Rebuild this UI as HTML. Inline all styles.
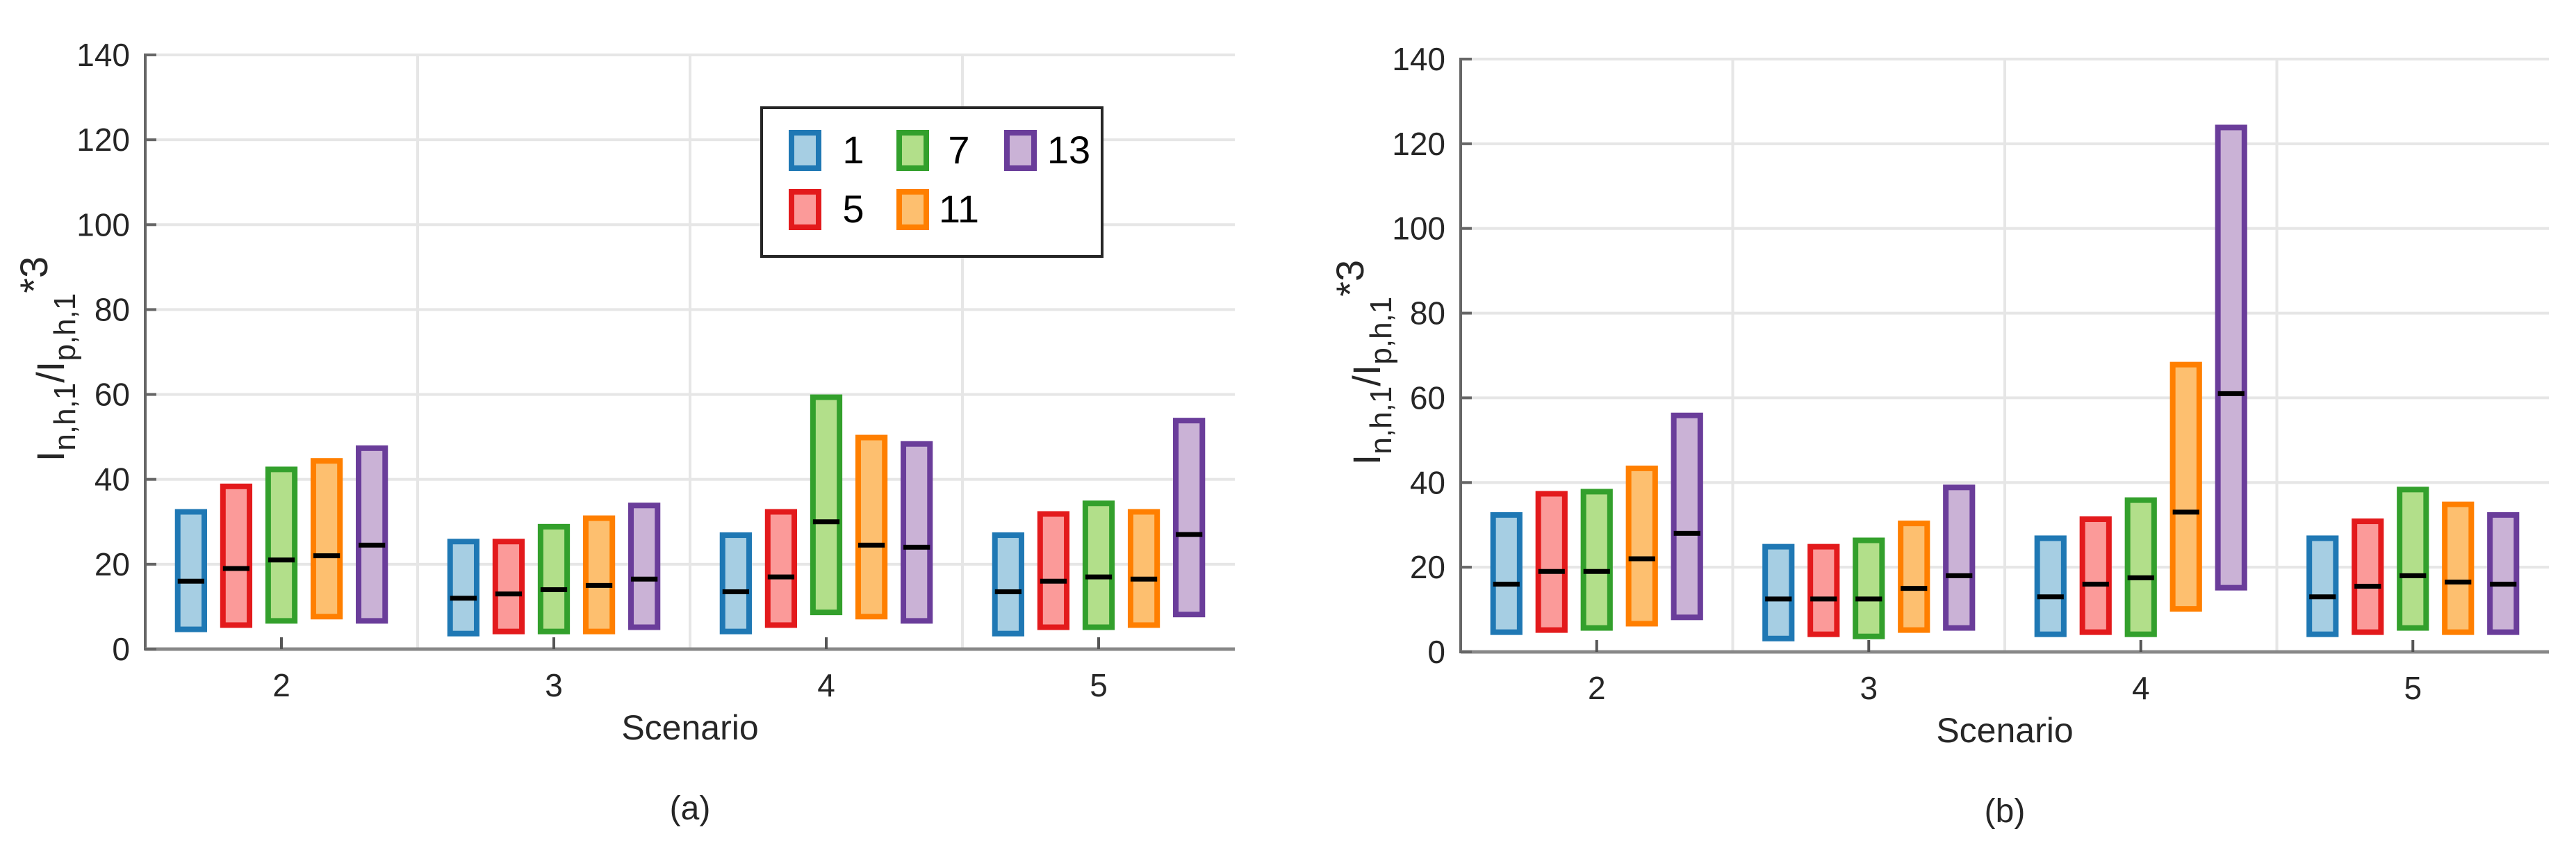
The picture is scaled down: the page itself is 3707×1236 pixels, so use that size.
<!DOCTYPE html>
<html><head><meta charset="utf-8"><style>
html,body{margin:0;padding:0;background:#fff}
svg{display:block;font-family:"Liberation Sans",Arial,sans-serif}
</style></head><body>
<svg id="fig" xmlns="http://www.w3.org/2000/svg" width="3707" height="1236" viewBox="0 0 3707 1236"></svg>
<script>
const categories = ["2","3","4","5"];
const seriesNames = ["1","5","7","11","13"];
const yTicks = [0,20,40,60,80,100,120,140];
// panel a: [low, median, high] per series per scenario
const aLow  = [[4,5,6,7,6],[3,3.5,3.5,3.5,4.5],[3.5,5,8,7,6],[3,4.5,4.5,5,7.5]];
const aMed  = [[16,19,21,22,24.5],[12,13,14,15,16.5],[13.5,17,30,24.5,24],[13.5,16,17,16.5,27]];
const aHigh = [[33,39,43,45,48],[26,26,29.5,31.5,34.5],[27.5,33,60,50.5,49],[27.5,32.5,35,33,54.5]];
// panel b
const bLow  = [[4,4.5,5,6,7.5],[2.5,3.5,3,4.5,5],[3.5,4,3.5,9.5,14.5],[3.5,4,5,4,4]];
const bMed  = [[16,19,19,22,28],[12.5,12.5,12.5,15,18],[13,16,17.5,33,61],[13,15.5,18,16.5,16]];
const bHigh = [[33,38,38.5,44,56.5],[25.5,25.5,27,31,39.5],[27.5,32,36.5,68.5,124.5],[27.5,31.5,39,35.5,33]];

const fills=["#a6cee3","#fb9a99","#b2df8a","#fdbf6f","#cab2d6"];
const strokes=["#1f78b4","#e31a1c","#33a02c","#ff7f00","#6a3d9a"];
const NS="http://www.w3.org/2000/svg";
const svg=document.getElementById('fig');
function mk(tag,attrs,parent){const e=document.createElementNS(NS,tag);for(const k in attrs)e.setAttribute(k,attrs[k]);(parent||svg).appendChild(e);return e;}

function panel(id,L,R,Y0,Y140,low,med,high,label,ylabX,showLegend){
  const g=mk('g',{});
  
  
  const xs=v=>L+(v-1.5)/4*(R-L);
  const ys=v=>Y0+(Y140-Y0)*v/140;
  yTicks.forEach(t=>{ if(t>0){const l=mk('line',{x1:L,x2:R,y1:ys(t),y2:ys(t),stroke:'#e6e6e6','stroke-width':4},g);
    }});
  [2.5,3.5,4.5].forEach(v=>{const l=mk('line',{x1:xs(v),x2:xs(v),y1:Y140,y2:Y0,stroke:'#e6e6e6','stroke-width':4},g);
    });
  const ax=mk('line',{x1:L,x2:L,y1:Y140-2,y2:Y0+2,stroke:'#666','stroke-width':4},g);
  
  const bx=mk('line',{x1:L,x2:R,y1:Y0,y2:Y0,stroke:'#888','stroke-width':5},g);
  
  yTicks.forEach(t=>{mk('line',{x1:L,x2:L+16,y1:ys(t),y2:ys(t),stroke:'#666','stroke-width':4},g);
    const tx=mk('text',{x:L-22,y:ys(t)+16,'text-anchor':'end','font-size':46,fill:'#262626'},g);tx.textContent=t;
    });
  categories.forEach((c,i)=>{const cx=xs(i+2);
    mk('line',{x1:cx,x2:cx,y1:Y0,y2:Y0-17,stroke:'#555','stroke-width':4},g);
    const tx=mk('text',{x:cx,y:Y0+68,'text-anchor':'middle','font-size':46,fill:'#262626'},g);tx.textContent=c;
    
    const bw=(R-L)/4;const sp=bw*0.166;const w=bw*0.118;
    for(let s=0;s<5;s++){const bxc=cx+(s-2)*sp;
      const r=mk('rect',{x:bxc-w/2+4,y:ys(high[i][s])+4,width:w-8,height:ys(low[i][s])-ys(high[i][s])-8,fill:fills[s],stroke:strokes[s],'stroke-width':8},g);
      
      const m=mk('line',{x1:bxc-w/2+4,x2:bxc+w/2-4,y1:ys(med[i][s]),y2:ys(med[i][s]),stroke:'#000','stroke-width':7},g);
      }
  });
  const xl=mk('text',{x:(L+R)/2,y:Y0+130,'text-anchor':'middle','font-size':50,fill:'#262626'},g);xl.textContent='Scenario';
  
  const cap=mk('text',{x:(L+R)/2,y:Y0+245,'text-anchor':'middle','font-size':48,fill:'#262626'},g);cap.textContent=label;
  
  const yl=mk('text',{x:0,y:0,'text-anchor':'middle','font-size':56,fill:'#262626',transform:`translate(${ylabX},${(Y0+Y140)/2+10}) rotate(-90)`},g);
  yl.innerHTML='I<tspan font-size="44" dy="16">n,h,1</tspan><tspan dy="-16">/I</tspan><tspan font-size="44" dy="16">p,h,1</tspan><tspan dy="-40">*3</tspan>';
  
  if(showLegend){
    const lg=mk('g',{},g);
    mk('rect',{x:1096,y:155,width:490,height:214,fill:'#fff',stroke:'#262626','stroke-width':4},lg);
    const pos=[[1135,187],[1135,272],[1290,187],[1290,272],[1445,187]];
    const tx=[1228,1228,1380,1380,1538];
    for(let s=0;s<5;s++){
      const e=mk('g',{},lg);
      mk('rect',{x:pos[s][0]+4,y:pos[s][1]+4,width:39,height:51,fill:fills[s],stroke:strokes[s],'stroke-width':8},e);
      const t=mk('text',{x:tx[s],y:pos[s][1]+48,'text-anchor':'middle','font-size':56,fill:'#000'},e);t.textContent=seriesNames[s];
    }
  }
}
panel('a',209,1777,934,79,aLow,aMed,aHigh,'(a)',92,true);
panel('b',2102,3668,938,85,bLow,bMed,bHigh,'(b)',1986,false);
</script>
</body></html>
